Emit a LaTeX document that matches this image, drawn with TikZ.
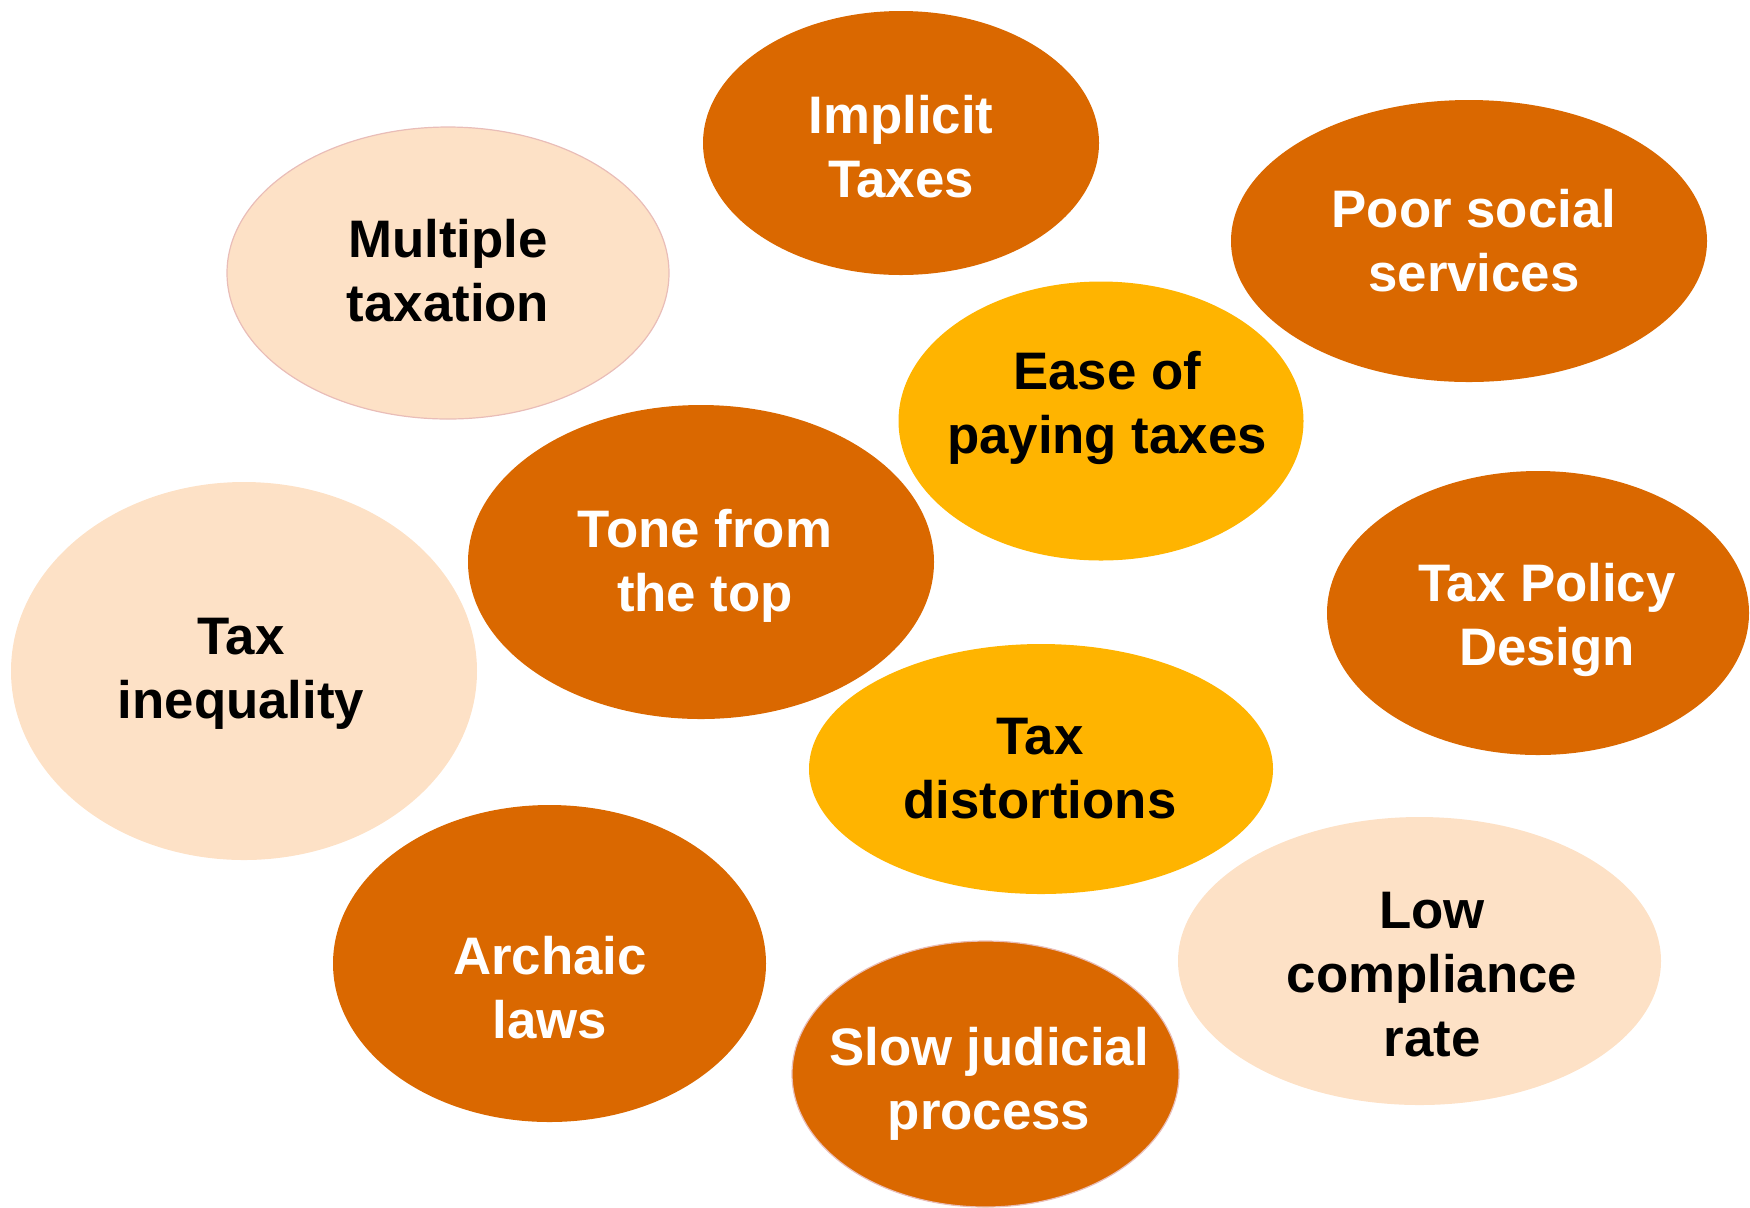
\documentclass[tikz,border=0pt]{standalone}
\usepackage{fontspec}
\setmainfont{Liberation Sans}
\definecolor{darkor}{HTML}{DA6800}
\definecolor{yel}{HTML}{FFB400}
\definecolor{peach}{HTML}{FDE1C6}
\definecolor{pinkline}{HTML}{E9BDB8}
\newcommand\ft{\rule{0pt}{0.75em}}
\newcommand\fd{\rule[-0.22em]{0pt}{0.22em}}
\tikzset{
  lbl/.style={inner sep=0pt, align=center, font=\fontsize{26.4}{32}\selectfont\bfseries},
  wlbl/.style={lbl, text=white},
  blbl/.style={lbl, text=black},
  darkfill/.style={fill=darkor},
  yelfill/.style={fill=yel},
  peachfill/.style={fill=peach},
  rim/.style={draw=pinkline, line width=0.6pt}
}
\begin{document}
\begin{tikzpicture}[x=0.5pt,y=-0.5pt]
\useasboundingbox (0,0) rectangle (1750,1207);
% ellipses
\path[darkfill] (901,143) ellipse [x radius=99pt, y radius=66pt];
\path[peachfill, rim] (448,273) ellipse [x radius=110.5pt, y radius=73pt];
\path[darkfill] (1469,241) ellipse [x radius=119pt, y radius=70.5pt];
\path[yelfill] (1101,421) ellipse [x radius=101.25pt, y radius=69.75pt];
\path[darkfill] (701,562) ellipse [x radius=116.5pt, y radius=78.5pt];
\path[peachfill] (244,671) ellipse [x radius=116.5pt, y radius=94.5pt];
\path[darkfill] (1538,613) ellipse [x radius=105.5pt, y radius=71pt];
\path[yelfill] (1041,769) ellipse [x radius=116pt, y radius=62.5pt];
\path[darkfill] (549.5,963.5) ellipse [x radius=108.25pt, y radius=79.25pt];
\path[darkfill, rim] (985.5,1074) ellipse [x radius=96.75pt, y radius=66.5pt];
\path[peachfill] (1419.5,961) ellipse [x radius=120.75pt, y radius=72pt];
% labels
\node[wlbl] (implicit) at (901,151) {\ft Implicit\\Taxes\fd};
\node[blbl] (multiple) at (448,275) {\ft Multiple\\taxation\fd};
\node[wlbl] (poor) at (1474,245) {\ft Poor social\\services\fd};
\node[blbl] (ease) at (1107,407) {\ft Ease of\\paying taxes\fd};
\node[wlbl] (tone) at (705,565) {\ft Tone from\\the top\fd};
\node[blbl] (inequality) at (241,672) {\ft Tax\\inequality\fd};
\node[wlbl] (policy) at (1547,619) {\ft Tax Policy\\Design\fd};
\node[blbl] (distortions) at (1040,772) {\ft Tax\\distortions\fd};
\node[wlbl] (archaic) at (550,992) {\ft Archaic\\laws\fd};
\node[wlbl] (slow) at (989,1083) {\ft Slow judicial\\process\fd};
\node[blbl] (low) at (1432,978) {\ft Low\\compliance\\rate\fd};
\end{tikzpicture}
\end{document}
